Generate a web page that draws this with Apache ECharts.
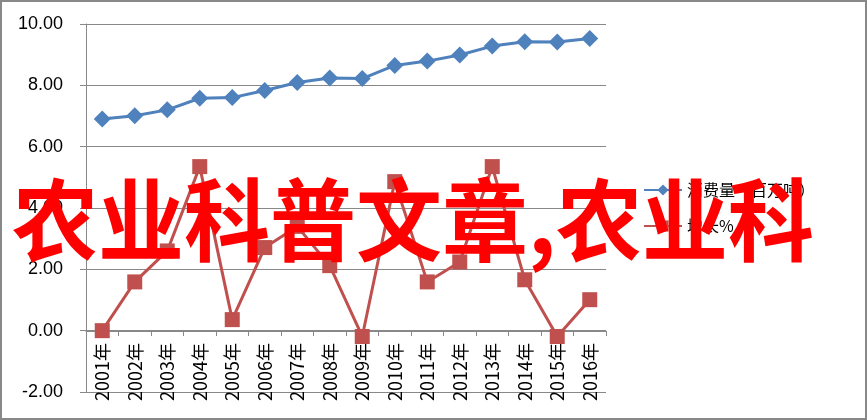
<!DOCTYPE html>
<html>
<head>
    <meta charset="utf-8">
    <title>ECharts</title>
    <script src="https://cdn.jsdelivr.net/npm/echarts@6/dist/echarts.min.js"></script>
    <style>
        html, body { margin: 0; padding: 0; background: #fff; }
        #main { width: 863px; height: 416px; border: 2px solid #888; }
    </style>
</head>
<body>
    <div id="main"></div>
    <script type="text/javascript">
        // 年份
        var years = ['2001年','2002年','2003年','2004年','2005年','2006年','2007年','2008年',
                     '2009年','2010年','2011年','2012年','2013年','2014年','2015年','2016年'];
        // 消费量（百万吨）
        var consumption = [6.90, 7.01, 7.20, 7.58, 7.60, 7.83, 8.09, 8.24,
                           8.22, 8.65, 8.79, 8.99, 9.28, 9.42, 9.41, 9.53];
        // 增长%
        var growth = [0.00, 1.59, 2.60, 5.35, 0.36, 2.71, 3.40, 2.12,
                      -0.19, 4.86, 1.59, 2.24, 5.35, 1.66, -0.19, 1.01];
        var overlayText = '农业科普文章,农业科';

        var myChart = echarts.init(document.getElementById('main'));

        // 横轴画在0刻度处：网格高366px，12个单位，每单位30.5px
        var zeroOffset = -61;

        var option = {
            animation: false,
            textStyle: { fontFamily: '"Noto Sans CJK SC", "Liberation Sans", sans-serif' },
            grid: { left: 84, right: 259, top: 22, bottom: 26, outerBoundsMode: 'none', containLabel: false },
            legend: {
                orient: 'vertical',
                left: 636,
                top: 175,
                itemWidth: 38,
                itemHeight: 14,
                itemGap: 20,
                textStyle: { fontSize: 16, color: '#000' },
                data: ['消费量（百万吨）', '增长%']
            },
            xAxis: {
                type: 'category',
                position: 'bottom',
                offset: zeroOffset,
                boundaryGap: true,
                data: years,
                axisLine: { onZero: false, lineStyle: { color: '#888', width: 1 } },
                axisTick: { show: true, length: 5, lineStyle: { color: '#888' } },
                axisLabel: {
                    rotate: 90,
                    margin: 12,
                    interval: 0,
                    fontSize: 18,
                    color: '#000'
                }
            },
            yAxis: {
                type: 'value',
                min: -2,
                max: 10,
                interval: 2,
                axisLine: { show: true, lineStyle: { color: '#888' } },
                axisTick: { show: true, length: 6, lineStyle: { color: '#888' } },
                axisLabel: {
                    fontSize: 18,
                    margin: 23,
                    color: '#000',
                    fontFamily: '"Liberation Sans", sans-serif',
                    formatter: function (v) { return v.toFixed(2); }
                },
                splitLine: { lineStyle: { color: '#888', width: 1 } }
            },
            series: [
                {
                    name: '消费量（百万吨）',
                    type: 'line',
                    data: consumption,
                    symbol: 'diamond',
                    symbolSize: 17,
                    itemStyle: { color: '#4F81BD' },
                    lineStyle: { color: '#4F81BD', width: 3 }
                },
                {
                    name: '增长%',
                    type: 'line',
                    data: growth,
                    symbol: 'rect',
                    symbolSize: 15,
                    itemStyle: { color: '#C0504D' },
                    lineStyle: { color: '#C0504D', width: 3 }
                }
            ],
            graphic: [
                {
                    type: 'text',
                    left: 10,
                    top: 173,
                    z: 100,
                    scaleY: 1.05,
                    style: {
                        text: overlayText,
                        fill: '#ff0000',
                        font: 'bold 86px "Noto Sans CJK SC", sans-serif'
                    }
                }
            ]
        };

        myChart.setOption(option);
    </script>
</body>
</html>
